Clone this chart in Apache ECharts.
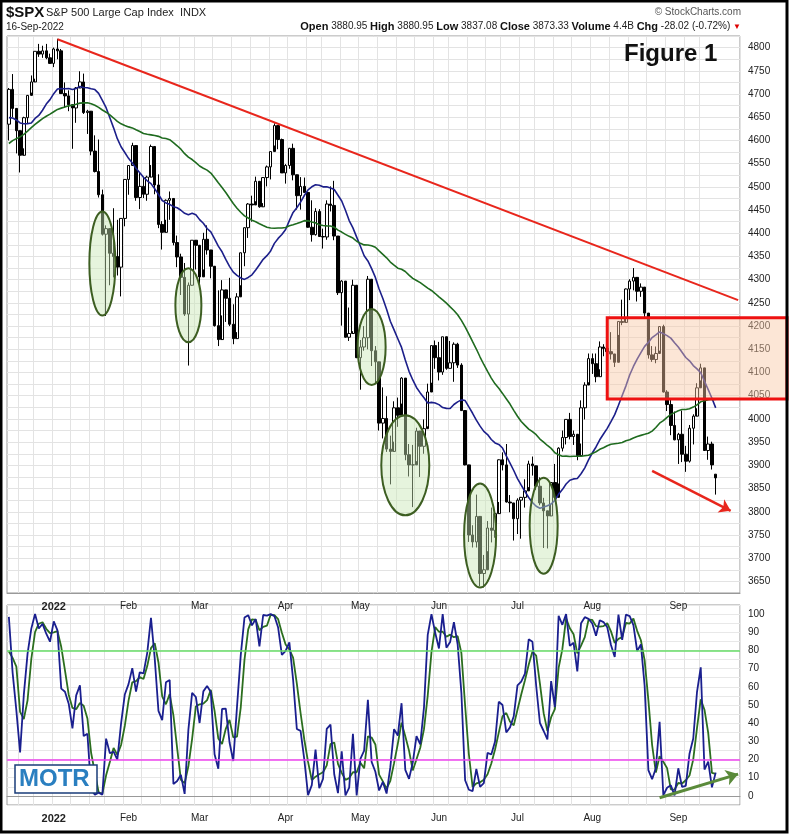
<!DOCTYPE html>
<html><head><meta charset="utf-8">
<script src="https://cdn.jsdelivr.net/npm/echarts@6/dist/echarts.min.js"></script>
<style>html,body{margin:0;padding:0;background:#fff}#c{width:789px;height:834px}</style>
</head><body><div id="c"></div>
<script>
// closes Oct 1 - Dec 14 2021 (history for averages/stochastics)
const priorCloses=[4357,4300,4345,4363,4399,4391,4361,4350,4364,4438,4471,4486,4519,4537,4536,4545,4567,4575,4552,4596,4605,
4614,4631,4660,4680,4697,4701,4685,4646,4649,4683,4683,4701,4689,4704,4698,4682,4691,4701,4595,4655,4567,
4513,4577,4538,4592,4687,4701,4668,4712,4669,4635];
// visible Dec 15 2021 - Sep 16 2022
const closes=[4710,4669,4621,4568,4649,4697,4726,4792,4786,4793,4778,4766,
4797,4793,4701,4696,4677,4670,4713,4726,4660,4663,4577,4533,4483,4398,4410,4357,4350,4327,4432,4516,
4546,4589,4477,4501,4484,4521,4587,4504,4419,4402,4471,4475,4380,4349,4305,4226,4288,4385,4374,
4306,4387,4364,4329,4201,4171,4278,4260,4204,4173,4263,4358,4412,4463,4461,4512,4457,4520,4543,4576,4632,4602,4530,
4546,4583,4526,4481,4501,4488,4413,4397,4447,4393,4392,4463,4460,4394,4272,4297,4176,4184,4288,4132,
4155,4175,4301,4147,4123,3991,4001,3935,3930,4024,4008,4088,3923,3901,3901,3974,3941,3979,4058,4158,4132,
4101,4177,4109,4121,4161,4116,4018,3901,3750,3735,3790,3667,3675,3765,3760,3796,3912,3901,3821,3819,3785,
3825,3831,3845,3903,3899,3855,3819,3802,3791,3863,3831,3937,3960,3999,3962,3967,3921,4024,4073,4130,
4119,4091,4155,4152,4145,4140,4122,4210,4208,4280,4297,4305,4275,4284,4228,4138,4128,4141,4199,4058,4031,3986,3955,
3967,3924,3909,3980,4006,4067,4110,3932,3946,3901,3873];
const highs=[4713,4743,4666,4591,4651,4698,4740,4792,4808,4804,4808,4787,
4800,4819,4797,4725,4708,4673,4715,4749,4744,4666,4632,4611,4602,4494,4417,4366,4454,4429,4432,4516,
4546,4595,4542,4531,4521,4524,4591,4588,4527,4426,4473,4490,4456,4395,4356,4336,4294,4385,4380,
4375,4401,4417,4357,4327,4277,4299,4268,4304,4247,4271,4358,4412,4465,4481,4522,4501,4521,4546,4576,4637,4627,4604,
4549,4584,4593,4504,4521,4520,4464,4471,4454,4452,4410,4471,4501,4513,4385,4299,4278,4240,4300,4270,
4170,4200,4308,4271,4157,4081,4068,4049,3964,4038,4046,4090,4063,3946,3944,3981,3955,3999,4076,4158,4169,
4166,4177,4143,4168,4165,4164,4120,3975,3838,3771,3837,3728,3707,3780,3809,3802,3913,3928,3946,3836,3818,
3829,3832,3870,3910,3919,3880,3874,3830,3796,3864,3903,3939,3975,3999,4013,3975,3961,4040,4079,4141,
4141,4141,4167,4161,4152,4187,4137,4211,4257,4281,4301,4325,4302,4292,4266,4195,4157,4156,4200,4203,4062,4044,4016,
3970,4018,3942,3987,4010,4077,4119,4062,3962,3951,3881];
const lows=[4600,4650,4572,4531,4583,4636,4703,4733,4780,4778,4775,4765,
4758,4775,4700,4671,4663,4582,4638,4717,4657,4614,4568,4531,4477,4395,4222,4288,4305,4309,4264,4415,
4483,4545,4470,4452,4476,4470,4547,4484,4411,4365,4429,4429,4374,4327,4267,4222,4115,4287,4322,
4279,4322,4354,4303,4199,4157,4223,4209,4200,4161,4187,4288,4329,4390,4425,4469,4455,4465,4501,4516,4589,4581,4530,
4507,4539,4514,4451,4451,4487,4412,4382,4395,4392,4367,4386,4447,4385,4267,4201,4175,4168,4189,4131,
4063,4147,4150,4114,4077,3975,3958,3929,3859,3951,3983,4033,3911,3876,3810,3909,3875,3925,3984,4078,4108,
4083,4095,4106,4109,4080,4110,4017,3900,3735,3723,3723,3640,3637,3715,3734,3744,3821,3889,3820,3799,3738,
3752,3742,3809,3853,3878,3847,3814,3722,3721,3817,3826,3861,3930,3945,3956,3944,3911,3947,3999,4079,
4097,4079,4107,4135,4108,4128,4112,4181,4202,4217,4256,4277,4253,4263,4218,4130,4123,4120,4147,4057,4017,3965,3954,
3903,3907,3886,3906,3945,4023,4083,3932,3912,3891,3837];
const monthNames=['2022','Feb','Mar','Apr','May','Jun','Jul','Aug','Sep','Oct','Nov','Dec'];
const holidays=['2021-11-25','2021-12-24','2022-01-17','2022-02-21','2022-04-15','2022-05-30','2022-06-20','2022-07-04','2022-09-05'];
const trendStart=['2022-01-04',4818], trendEndValue=4256;
const boxRange=[4043,4218], boxStart='2022-08-05';
const ellipses=[['2022-01-21',4335,13,52],['2022-02-24',4245,13,37],['2022-05-05',4155,14,38],['2022-05-18',3900,24,50],['2022-06-16',3749,16,52],['2022-07-13',3770,14,48]];

const allDates=[];
let d=new Date(Date.UTC(2021,9,1));
const total=priorCloses.length+closes.length;
while(allDates.length<total){const w=d.getUTCDay();const s=d.toISOString().slice(0,10);if(w>0&&w<6&&holidays.indexOf(s)<0)allDates.push(s);d=new Date(d.getTime()+86400000);}
const P=priorCloses.length;
const dates=allDates.slice(P);
const cats=dates.concat(['e1','e2','e3','e4','e5','e6']);
const allC=priorCloses.concat(closes);
const allH=priorCloses.concat(highs), allL=priorCloses.concat(lows);
const ohlc=closes.map((c,i)=>[i===0?priorCloses[P-1]:closes[i-1],c,lows[i],highs[i]]);
ohlc[ohlc.length-1][0]=3881;
function sma(arr,n,i){let s=0;for(let k=i-n+1;k<=i;k++)s+=arr[k];return s/n;}
const ma20=closes.map((c,i)=>+sma(allC,20,i+P).toFixed(1));
const ma50=closes.map((c,i)=>+sma(allC,50,i+P).toFixed(1));
const fastK=allC.map((c,i)=>{if(i<13)return 50;let h=-1e9,l=1e9;for(let k=i-13;k<=i;k++){h=Math.max(h,allH[k]);l=Math.min(l,allL[k]);}return (c-l)/(h-l)*100;});
const fastD=fastK.map((v,i)=>i<2?v:(fastK[i]+fastK[i-1]+fastK[i-2])/3);
const kVis=fastK.slice(P).map(v=>+v.toFixed(1)), dVis=fastD.slice(P).map(v=>+v.toFixed(1));

const monthStart=i=>{const c=cats[i];if(!c||c[0]==='e')return false;const p=cats[i-1];return !p||p.slice(5,7)!==c.slice(5,7);};
const weekStart=i=>{const c=cats[i];if(!c||c[0]==='e'||i===0)return false;return new Date(cats[i-1]).getUTCDay()>new Date(c).getUTCDay();};
const xLab={fontSize:10,color:'#222',fontFamily:'Liberation Sans',interval:(i)=>monthStart(i)&&cats[i]>='2022',formatter:v=>{const m=+v.slice(5,7)-1;return m===0?'{b|2022}':monthNames[m];},rich:{b:{fontWeight:'bold',fontSize:11,color:'#222'}}};
function xAxis(gi){return {type:'category',data:cats,gridIndex:gi,boundaryGap:true,axisLine:{lineStyle:{color:'#999'}},axisTick:{show:false},axisLabel:xLab,splitLine:{show:true,interval:i=>weekStart(i),lineStyle:{color:'#e3e3e3'}}};}
const chart=echarts.init(document.getElementById('c'));
chart.setOption({
animation:false,backgroundColor:'#fff',
grid:[{left:7,right:49,top:36,height:557,show:true,borderColor:'#999',borderWidth:1},{left:7,right:49,top:605,height:200,show:true,borderColor:'#999',borderWidth:1}],
xAxis:[xAxis(0),xAxis(1)],
yAxis:[{type:'value',gridIndex:0,position:'right',min:3625,max:4825,interval:25,axisLine:{show:false},axisTick:{show:false},axisLabel:{fontSize:10,color:'#222',fontFamily:'Liberation Sans',formatter:v=>v%50===0&&v>=3650&&v<=4800?v:''},splitLine:{lineStyle:{color:'#e3e3e3'}}},
{type:'value',gridIndex:1,position:'right',min:-5,max:105,interval:5,axisLine:{show:false},axisTick:{show:false},axisLabel:{fontSize:10,color:'#222',fontFamily:'Liberation Sans',formatter:v=>v%10===0&&v>=0&&v<=100?v:''},splitLine:{lineStyle:{color:'#e8e8e8'}}}],
series:[
{type:'candlestick',data:ohlc,barWidth:3,itemStyle:{color:'#fff',color0:'#000',borderColor:'#000',borderColor0:'#000',borderWidth:1},
 markLine:{silent:true,symbol:['none','none'],data:[
  [{coord:trendStart,lineStyle:{color:'#e8261c',width:2,type:'solid'}},{coord:['e6',trendEndValue]}],
  [{coord:['2022-08-23',3888],symbol:'none',lineStyle:{color:'#e8261c',width:2.5,type:'solid'}},{coord:['e4',3802],symbol:'arrow',symbolSize:11}]
 ],label:{show:false}}},
{type:'line',data:ma20,showSymbol:false,lineStyle:{color:'#1c1f8a',width:1.6},z:3},
{type:'line',data:ma50,showSymbol:false,lineStyle:{color:'#1f6b1f',width:1.6},z:3},
{type:'line',xAxisIndex:1,yAxisIndex:1,data:dVis,showSymbol:false,lineStyle:{color:'#2b6e1e',width:1.8},
 markLine:{silent:true,symbol:['none','none'],label:{show:false},data:[{yAxis:80,lineStyle:{color:'#66dd66',width:1.5,type:'solid'}},{yAxis:20,lineStyle:{color:'#ee44ee',width:1.5,type:'solid'}},
  [{coord:['2022-08-25',-1],lineStyle:{color:'#5a8a3a',width:3,type:'solid'}},{coord:['e6',12],symbol:'arrow',symbolSize:12}]]}},
{type:'line',xAxisIndex:1,yAxisIndex:1,data:kVis,showSymbol:false,lineStyle:{color:'#1a1f8f',width:1.8}}
]});
const gr=[];
ellipses.forEach(e=>{const p=chart.convertToPixel({xAxisIndex:0,yAxisIndex:0},[e[0],e[1]]);gr.push({type:'ellipse',shape:{cx:p[0],cy:p[1],rx:e[2],ry:e[3]},style:{fill:'rgba(200,230,180,0.45)',stroke:'#3d5e22',lineWidth:2},z:10});});
const b1=chart.convertToPixel({xAxisIndex:0,yAxisIndex:0},[boxStart,boxRange[1]]);
const b2=chart.convertToPixel({xAxisIndex:0,yAxisIndex:0},[boxStart,boxRange[0]]);
gr.push({type:'rect',shape:{x:b1[0],y:b1[1],width:787-b1[0],height:b2[1]-b1[1]},style:{fill:'rgba(248,200,165,0.45)',stroke:'#ee1111',lineWidth:3},z:10});
gr.push({type:'rect',shape:{x:1,y:1,width:786,height:831},style:{fill:null,stroke:'#000',lineWidth:3},z:20});
gr.push({type:'text',left:6,top:5,style:{text:'$SPX',font:'bold 15px Liberation Sans',fill:'#111'}});
gr.push({type:'text',left:46,top:7,style:{text:'S&P 500 Large Cap Index  INDX',font:'11px Liberation Sans',fill:'#222'}});
gr.push({type:'text',left:6,top:22,style:{text:'16-Sep-2022',font:'10px Liberation Sans',fill:'#222'}});
gr.push({type:'text',right:48,top:7,style:{text:'© StockCharts.com',font:'10px Liberation Sans',fill:'#555'}});
gr.push({type:'text',right:48,top:21,style:{text:'{b|Open} 3880.95 {b|High} 3880.95 {b|Low} 3837.08 {b|Close} 3873.33 {b|Volume} 4.4B {b|Chg} -28.02 (-0.72%) {r|▼}',font:'10px Liberation Sans',fill:'#222',rich:{b:{font:'bold 11px Liberation Sans',fill:'#111'},r:{fill:'#d00',fontSize:8}}}});
gr.push({type:'text',left:624,top:42,style:{text:'Figure 1',font:'bold 24px Liberation Sans',fill:'#111'},z:10});
gr.push({type:'rect',shape:{x:15,y:765,width:82,height:28},style:{fill:'#fff',stroke:'#1a3d7a',lineWidth:1.5},z:10});
gr.push({type:'text',left:19,top:767,style:{text:'MOTR',font:'bold 24px Liberation Sans',fill:'#2a7fc0'},z:11});
chart.setOption({graphic:gr});
</script></body></html>
